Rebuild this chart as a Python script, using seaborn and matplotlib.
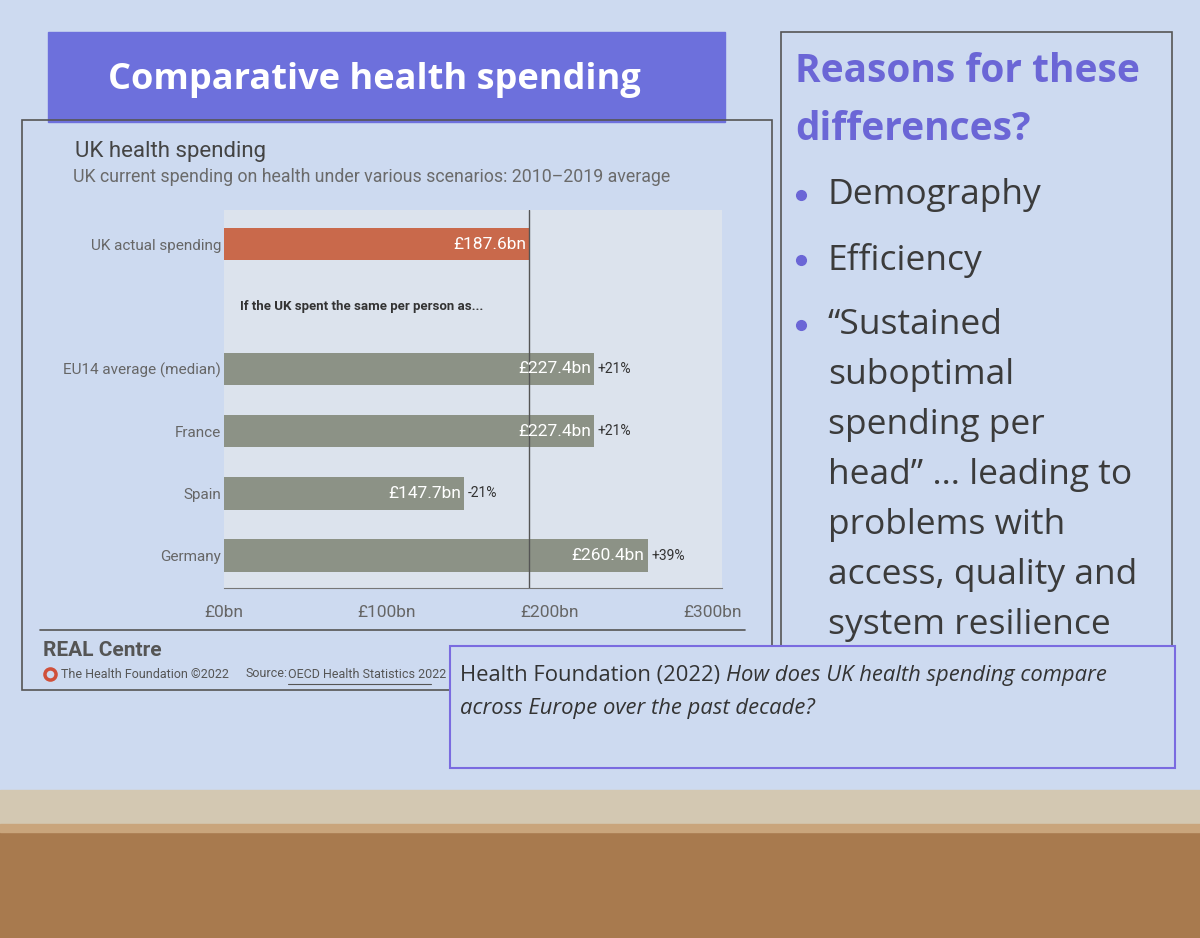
import matplotlib
matplotlib.use("Agg")
import matplotlib.pyplot as plt
import matplotlib.patches as mpatches
from matplotlib.lines import Line2D
import seaborn as sns
import pandas as pd

# chart data
categories = ["UK actual spending", "EU14 average (median)", "France", "Spain", "Germany"]
spending = [187.6, 227.4, 227.4, 147.7, 260.4]
change_labels = ["", "+21%", "+21%", "-21%", "+39%"]
order = ["UK actual spending", " ", "EU14 average (median)", "France", "Spain", "Germany"]
uk_actual = 187.6
xticks = [0, 100, 200, 300]
xtick_labels = ["£0bn", "£100bn", "£200bn", "£300bn"]

# slide text
slide_title = "Comparative health spending"
chart_title = "UK health spending"
chart_subtitle = "UK current spending on health under various scenarios: 2010\u20132019 average"
gap_note = "If the UK spent the same per person as..."
side_heading = ["Reasons for these", "differences?"]
bullets = [["Demography"], ["Efficiency"],
           ["\u201cSustained", "suboptimal", "spending per", "head\u201d \u2026 leading to",
            "problems with", "access, quality and", "system resilience"]]

W, H = 1200, 938
SLIDE = "#cddaf0"
PURPLE = "#6b66d6"


def fx(x):
    return x / W


def fy(y):
    return 1 - y / H


sns.set_style("white")
plt.rcParams["font.family"] = ["Roboto", "DejaVu Sans"]

fig = plt.figure(figsize=(12, 9.38), dpi=100)
fig.patch.set_facecolor(SLIDE)

# room below the screen
fig.patches.append(mpatches.Rectangle((0, 0), 1, fy(790), transform=fig.transFigure,
                                      color="#d3c8b2", zorder=0))
fig.patches.append(mpatches.Rectangle((0, 0), 1, fy(828), transform=fig.transFigure,
                                      color="#a87a4e", zorder=0))
fig.patches.append(mpatches.Rectangle((0, fy(832)), 1, fy(824) - fy(832), transform=fig.transFigure,
                                      color="#c9a57c", zorder=0))

# title banner
fig.patches.append(mpatches.Rectangle((fx(48), fy(122)), fx(677), fy(32) - fy(122),
                                      transform=fig.transFigure, color="#6d70dc", zorder=1))
fig.text(fx(108), fy(80), slide_title, color="white", fontsize=26, fontweight="bold",
         family=["Open Sans", "DejaVu Sans"], va="center", ha="left")

# chart panel frame
fig.patches.append(mpatches.Rectangle((fx(22), fy(690)), fx(750), fy(120) - fy(690),
                                      transform=fig.transFigure, fill=False,
                                      edgecolor="#555555", lw=1.2, zorder=1))
fig.lines.append(Line2D([fx(40), fx(745)], [fy(630), fy(630)], transform=fig.transFigure,
                        color="#555555", lw=1.2))

fig.text(fx(75), fy(151), chart_title, fontsize=16, color="#444444", va="center")
fig.text(fx(73), fy(177), chart_subtitle, fontsize=12.8, color="#6a6a6a", va="center")

# bar chart
ax = fig.add_axes([fx(224), fy(588), fx(722) - fx(224), fy(210) - fy(588)])
ax.set_facecolor("#dce3ed")
df = pd.DataFrame({"label": categories, "spend": spending})
palette = {c: "#8c9286" for c in categories}
palette["UK actual spending"] = "#c9694b"
sns.barplot(data=df, x="spend", y="label", hue="label", order=order, palette=palette,
            width=0.52, legend=False, saturation=1, linewidth=0, ax=ax)
ax.axvline(uk_actual, color="#555555", lw=1, zorder=1)

for lab, v, ch in zip(categories, spending, change_labels):
    i = order.index(lab)
    ax.text(v - 2, i, f"£{v}bn", ha="right", va="center", color="white", fontsize=12.5)
    if ch:
        ax.text(v + 2, i, ch, ha="left", va="center", color="#333333", fontsize=10)
ax.text(10, order.index(" "), gap_note, ha="left", va="center", color="#333333",
        fontsize=9.5, fontweight="bold")

ax.set_xlim(0, 306)
ax.set_ylim(5.52, -0.55)
ax.set_xticks(xticks)
ax.set_xticklabels(xtick_labels)
ax.set_yticks(range(len(order)))
ax.set_yticklabels([o if o.strip() else "" for o in order])
ax.set_xlabel("")
ax.set_ylabel("")
for s in ["top", "right", "left"]:
    ax.spines[s].set_visible(False)
ax.spines["bottom"].set_color("#777777")
ax.tick_params(axis="y", length=0, pad=2, labelsize=11, labelcolor="#666666")
ax.tick_params(axis="x", direction="in", length=6, color="#777777", pad=12,
               labelsize=12.5, labelcolor="#666666")

# footer of chart panel
fig.text(fx(43), fy(650), "REAL Centre", fontsize=15, fontweight="bold", color="#555555", va="center")
fig.lines.append(Line2D([fx(50)], [fy(674)], transform=fig.transFigure, marker="o", ms=8,
                        mfc="none", mec="#d0503a", mew=2.5))
fig.text(fx(61), fy(675), "The Health Foundation \u00a92022", fontsize=9, color="#555555", va="center")
fig.text(fx(245), fy(673), "Source:", fontsize=9, color="#555555", va="center")
fig.text(fx(288), fy(675), "OECD Health Statistics 2022", fontsize=9, color="#555555", va="center")
fig.lines.append(Line2D([fx(288), fx(431)], [fy(684), fy(684)], transform=fig.transFigure,
                        color="#555555", lw=0.8))

# right panel
fig.patches.append(mpatches.Rectangle((fx(781), fy(668)), fx(391), fy(32) - fy(668),
                                      transform=fig.transFigure, fill=False,
                                      edgecolor="#555555", lw=1.2, zorder=1))
side_font = ["Open Sans", "DejaVu Sans"]
fig.text(fx(795), fy(72), side_heading[0], fontsize=28, fontweight="bold", color=PURPLE,
         family=side_font, va="center")
fig.text(fx(795), fy(129), side_heading[1], fontsize=28, fontweight="bold", color=PURPLE,
         family=side_font, va="center")
y = 195
for k, block in enumerate(bullets):
    fig.lines.append(Line2D([fx(801)], [fy(y)], transform=fig.transFigure, marker="o", ms=7,
                            color=PURPLE, mec=PURPLE))
    for line in block:
        fig.text(fx(828), fy(y), line, fontsize=25.5, color="#3b3b3b", family=side_font, va="center")
        y += 50
    y += 15

# reference box
fig.patches.append(mpatches.Rectangle((fx(450), fy(768)), fx(725), fy(646) - fy(768),
                                      transform=fig.transFigure, facecolor=SLIDE,
                                      edgecolor="#7a6be0", lw=1.5, zorder=2))
t1 = fig.text(fx(460), fy(676), "Health Foundation (2022) ", fontsize=15.8, color="#333333",
              family=side_font, va="center", zorder=3)
fig.canvas.draw()
bb = t1.get_window_extent()
fig.text(bb.x1 / fig.bbox.width, fy(676), "How does UK health spending compare",
         fontsize=15.8, color="#333333", style="italic", family=side_font, va="center", zorder=3)
fig.text(fx(460), fy(708), "across Europe over the past decade?", fontsize=15.8,
         color="#333333", style="italic", family=side_font, va="center", zorder=3)

fig.savefig("out.png", dpi=100, facecolor=fig.get_facecolor())
